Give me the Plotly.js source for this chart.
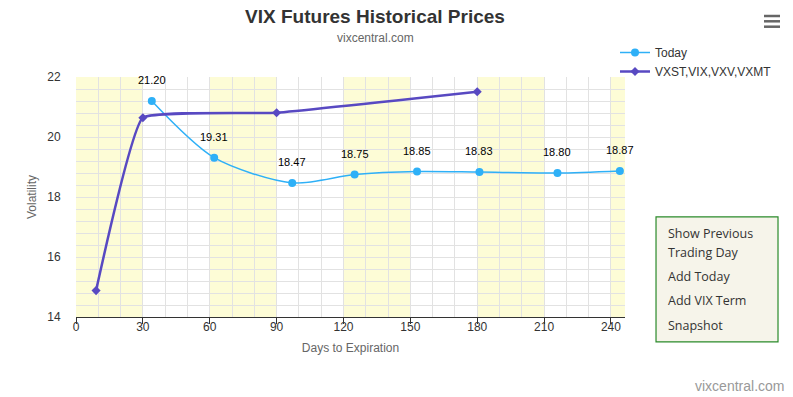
<!DOCTYPE html>
<html>
<head>
<meta charset="utf-8">
<script src="https://cdn.plot.ly/plotly-3.0.1.min.js"></script>
<style>html,body{margin:0;padding:0;background:#fff;}#chart{width:793px;height:397px;}</style>
</head>
<body>
<div id="chart"></div>
<script>
// Data
const todayDays = [34, 62, 97, 125, 153, 181, 216, 244];
const todayValues = [21.20, 19.31, 18.47, 18.75, 18.85, 18.83, 18.80, 18.87];
const termDays = [9, 30, 90, 180];
const termValues = [14.88, 20.64, 20.81, 21.51];
const xTicks = [0, 30, 60, 90, 120, 150, 180, 210, 240];
const yTicks = [14, 16, 18, 20, 22];
const bandStarts = [0, 60, 120, 180, 240];
const bandEnds = [30, 90, 150, 210, 270];
const seriesNames = ["Today", "VXST,VIX,VXV,VXMT"];
const menuItems = ["Show Previous", "Trading Day", "Add Today", "Add VIX Term", "Snapshot"];

const blue = "#2eb0f7";
const purple = "#5849c2";

const traces = [
  {
    x: todayDays, y: todayValues, name: seriesNames[0],
    mode: "lines+markers", type: "scatter",
    line: {color: blue, width: 1.5, shape: "spline", smoothing: 0.8},
    marker: {color: blue, size: 8, symbol: "circle"},
    cliponaxis: false
  },
  {
    x: termDays, y: termValues, name: seriesNames[1],
    mode: "lines+markers", type: "scatter",
    line: {color: purple, width: 2.5, shape: "spline", smoothing: 0.3},
    marker: {color: purple, size: 7, symbol: "diamond"},
    cliponaxis: false
  }
];

const shapes = bandStarts.map((s, i) => ({
  type: "rect", xref: "x", yref: "paper", x0: s, x1: bandEnds[i], y0: 0, y1: 1,
  fillcolor: "#fdfcd6", line: {width: 0}, layer: "below"
}));
// menu box
shapes.push({type: "rect", xref: "paper", yref: "paper", x0: 1.0565, x1: 1.2787, y0: -0.104, y1: 0.417,
  fillcolor: "#f6f4ea", line: {color: "#2a8a2a", width: 1.2}, layer: "above"});
// hamburger icon
[16, 21.3, 26.7].forEach(py => {
  shapes.push({type: "line", xref: "paper", yref: "paper",
    x0: (764 - 76) / 549, x1: (780 - 76) / 549,
    y0: (317 - py) / 240, y1: (317 - py) / 240,
    line: {color: "#666", width: 2.5}});
});

const annotations = todayDays.map((d, i) => ({
  x: d, y: todayValues[i], xref: "x", yref: "y", text: todayValues[i].toFixed(2),
  showarrow: false, yshift: 21, font: {family: "Liberation Sans, Arial", size: 11, color: "#000"}
}));
annotations.push({xref: "paper", yref: "paper", x: (375 - 76) / 549, y: (317 - 38) / 240,
  xanchor: "center", yanchor: "middle",
  text: "vixcentral.com", showarrow: false, font: {family: "Liberation Sans, Arial", size: 12, color: "#666"}});
annotations.push({xref: "paper", yref: "paper", x: (786 - 76) / 549, y: (317 - 386) / 240,
  xanchor: "right", yanchor: "middle",
  text: "vixcentral.com", showarrow: false, font: {family: "Liberation Sans, Arial", size: 14, color: "#999"}});
const menuY = [233, 252, 276, 300, 325];
menuItems.forEach((t, i) => {
  annotations.push({xref: "paper", yref: "paper", x: (666 - 76) / 549, y: (317 - menuY[i]) / 240,
    xanchor: "left", yanchor: "middle", text: t, showarrow: false,
    font: {family: "Open Sans, sans-serif", size: 12.5, color: "#333"}});
});

const layout = {
  width: 793, height: 397,
  margin: {l: 76, r: 168, t: 77, b: 80, autoexpand: false},
  paper_bgcolor: "#fff", plot_bgcolor: "#fff",
  font: {family: "Liberation Sans, Arial, sans-serif", color: "#333"},
  title: {text: "<b>VIX Futures Historical Prices</b>", x: 375 / 793, xanchor: "center", y: 1 - 16 / 397, yanchor: "middle",
    font: {size: 19, color: "#333"}},
  showlegend: true,
  legend: {xref: "container", yref: "container", x: 615 / 793, y: 1 - 38 / 397, xanchor: "left", yanchor: "top",
    font: {size: 12, color: "#333"}, bgcolor: "rgba(0,0,0,0)", tracegroupgap: 0, itemwidth: 30},
  xaxis: {
    range: [0, 246.3], tickvals: xTicks, ticktext: xTicks.map(String),
    showgrid: true, gridcolor: "#e2e2e2", gridwidth: 1,
    minor: {dtick: 10, tick0: 0, showgrid: true, gridcolor: "#e2e2e2", gridwidth: 1},
    showline: true, linecolor: "#333", linewidth: 1,
    ticks: "outside", ticklen: 6, tickcolor: "#333", ticklabelstandoff: -7,
    tickfont: {size: 12, color: "#333"}, zeroline: false, fixedrange: true,
    title: {text: "Days to Expiration", font: {size: 12, color: "#666"}, standoff: 10}
  },
  yaxis: {
    range: [14, 22], tickvals: yTicks, ticktext: yTicks.map(String),
    showgrid: true, gridcolor: "#e2e2e2", gridwidth: 1,
    minor: {dtick: 0.4, tick0: 14, showgrid: true, gridcolor: "#e2e2e2", gridwidth: 1},
    showline: false, ticks: "outside", ticklen: 12, tickcolor: "rgba(0,0,0,0)",
    tickfont: {size: 12, color: "#333"}, zeroline: false, fixedrange: true,
    title: {text: "Volatility", font: {size: 12, color: "#666"}, standoff: 8}
  },
  shapes: shapes,
  annotations: annotations
};

Plotly.newPlot("chart", traces, layout, {displayModeBar: false, staticPlot: true});
</script>
</body>
</html>
